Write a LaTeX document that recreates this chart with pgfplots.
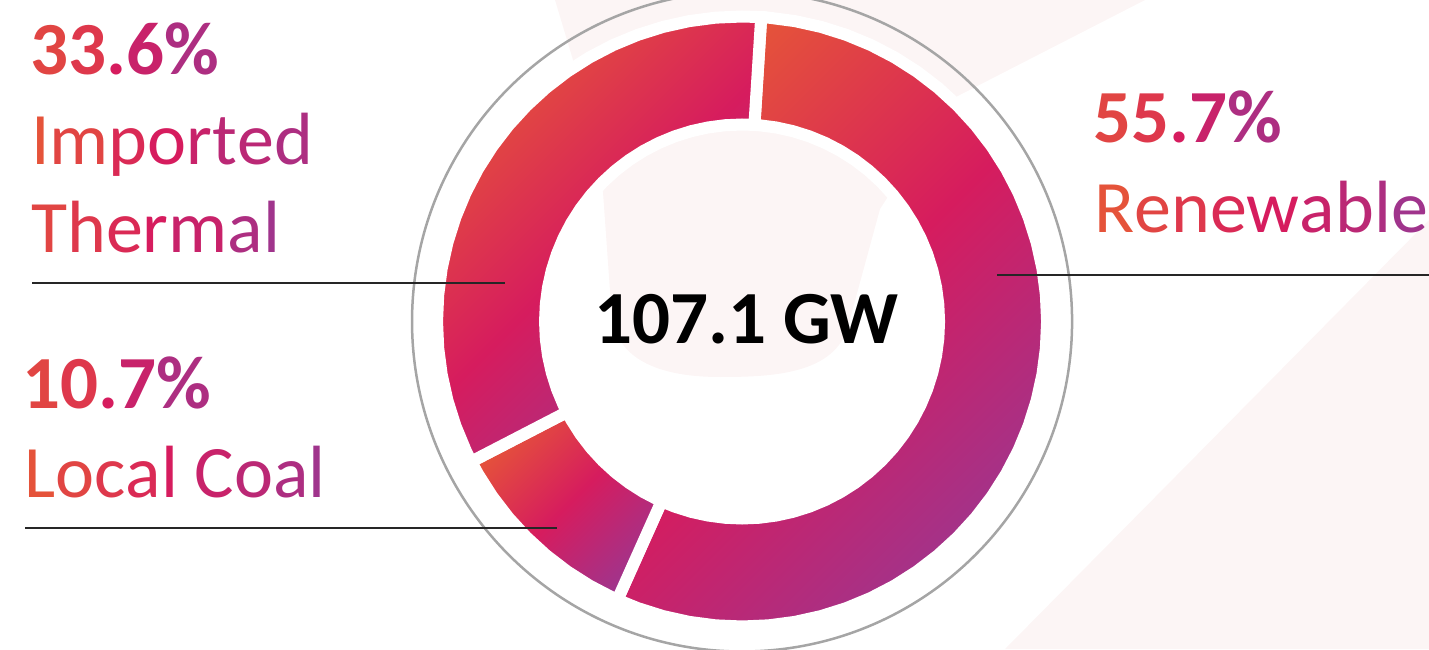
\documentclass[border=0pt]{standalone}
\usepackage{pgfplots}
\pgfplotsset{compat=1.18}
\usepackage{fontspec}
\setmainfont{Carlito}
\definecolor{gOr}{RGB}{229,83,58}
\definecolor{gMag}{RGB}{214,28,94}
\definecolor{gPur}{RGB}{160,52,140}
\colorlet{s0}{gOr}
\colorlet{s1}{gMag!25!gOr}
\colorlet{s2}{gMag!50!gOr}
\colorlet{s3}{gMag!75!gOr}
\colorlet{s4}{gMag}
\colorlet{s5}{gPur!25!gMag}
\colorlet{s6}{gPur!50!gMag}
\colorlet{s7}{gPur!75!gMag}
\colorlet{s8}{gPur}
\definecolor{bgPink}{RGB}{252,245,245}
\definecolor{ringGray}{RGB}{165,165,165}
\newcommand{\cc}[2]{\textcolor{s#1}{#2}}
\newcommand{\bigfont}{\fontsize{74pt}{80pt}\selectfont}
\newcommand{\pctfont}{\fontsize{75pt}{80pt}\selectfont\bfseries}
\begin{document}
\begin{tikzpicture}
\useasboundingbox (0pt,0pt) rectangle (1429pt,649pt);
\clip (0pt,0pt) rectangle (1429pt,649pt);
% faint background watermark
\fill[bgPink] (1005pt,0pt) -- (1429pt,0pt) -- (1429pt,429pt) -- cycle;
\fill[bgPink] (555pt,649pt) -- (1145pt,649pt) -- (950pt,549pt) -- (880pt,440pt) -- (850pt,330pt)
  to[out=-100,in=0] (720pt,272pt) to[out=180,in=-80] (612pt,330pt) -- (600pt,499pt) -- cycle;
% Shares (%): Renewable 55.7, Local Coal 10.7, Imported Thermal 33.6
% -> sweep angles 200.52, 38.52, 120.96 degrees, clockwise from 86.4 deg
\begin{axis}[at={(0pt,0pt)}, anchor=south west, width=1429pt, height=649pt,
  scale only axis, hide axis, clip=false,
  xmin=-742, xmax=687, ymin=-327.5, ymax=321.5]
\draw[ringGray, line width=2.5pt] (axis cs:0,0) circle[radius=330];
% Renewable 55.7%
\addplot[data cs=polar, mark=none, draw=white, line width=12pt,
  top color=gOr, bottom color=gPur, middle color=gMag, shading angle=45]
 coordinates {(86.4,305) (85,305) (80,305) (75,305) (70,305) (65,305) (60,305) (55,305) (50,305) (45,305) (40,305) (35,305) (30,305) (25,305) (20,305) (15,305) (10,305) (5,305) (0,305) (-5,305) (-10,305) (-15,305) (-20,305) (-25,305) (-30,305) (-35,305) (-40,305) (-45,305) (-50,305) (-55,305) (-60,305) (-65,305) (-70,305) (-75,305) (-80,305) (-85,305) (-90,305) (-95,305) (-100,305) (-105,305) (-110,305) (-114.12,305)
 (-114.12,197) (-110,197) (-105,197) (-100,197) (-95,197) (-90,197) (-85,197) (-80,197) (-75,197) (-70,197) (-65,197) (-60,197) (-55,197) (-50,197) (-45,197) (-40,197) (-35,197) (-30,197) (-25,197) (-20,197) (-15,197) (-10,197) (-5,197) (0,197) (5,197) (10,197) (15,197) (20,197) (25,197) (30,197) (35,197) (40,197) (45,197) (50,197) (55,197) (60,197) (65,197) (70,197) (75,197) (80,197) (85,197) (86.4,197) (86.4,305)};
% Local Coal 10.7%
\addplot[data cs=polar, mark=none, draw=white, line width=12pt,
  top color=gOr, bottom color=gPur, middle color=gMag, shading angle=45]
 coordinates {(-114.12,305) (-115,305) (-120,305) (-125,305) (-130,305) (-135,305) (-140,305) (-145,305) (-150,305) (-152.64,305)
 (-152.64,197) (-150,197) (-145,197) (-140,197) (-135,197) (-130,197) (-125,197) (-120,197) (-115,197) (-114.12,197) (-114.12,305)};
% Imported Thermal 33.6%
\addplot[data cs=polar, mark=none, draw=white, line width=12pt,
  top color=gOr, bottom color=gPur, middle color=gMag, shading angle=45]
 coordinates {(-152.64,305) (-155,305) (-160,305) (-165,305) (-170,305) (-175,305) (-180,305) (-185,305) (-190,305) (-195,305) (-200,305) (-205,305) (-210,305) (-215,305) (-220,305) (-225,305) (-230,305) (-235,305) (-240,305) (-245,305) (-250,305) (-255,305) (-260,305) (-265,305) (-270,305) (-273.6,305)
 (-273.6,197) (-270,197) (-265,197) (-260,197) (-255,197) (-250,197) (-245,197) (-240,197) (-235,197) (-230,197) (-225,197) (-220,197) (-215,197) (-210,197) (-205,197) (-200,197) (-195,197) (-190,197) (-185,197) (-180,197) (-175,197) (-170,197) (-165,197) (-160,197) (-155,197) (-152.64,197) (-152.64,305)};
\end{axis}
% leader lines
\draw[black!85, line width=1.3pt] (32pt,366pt) -- (505pt,366pt);
\draw[black!85, line width=1.3pt] (997pt,374pt) -- (1429pt,374pt);
\draw[black!85, line width=1.3pt] (25pt,121pt) -- (557pt,121pt);
% labels
\node[anchor=base west, inner sep=0pt, font=\pctfont] at (30pt,574pt)
  {\cc1{3}\cc2{3}\cc4{.}\cc5{6}\cc7{\%}};
\node[anchor=base west, inner sep=0pt, font=\bigfont] at (31pt,484pt)
  {\cc0{I}\cc1{m}\cc3{p}\cc4{o}\cc5{r}\cc6{t}\cc6{e}\cc7{d}};
\node[anchor=base west, inner sep=0pt, font=\bigfont] at (31pt,396pt)
  {\cc1{T}\cc2{h}\cc3{e}\cc4{r}\cc5{m}\cc7{a}\cc8{l}};
\node[anchor=base west, inner sep=0pt, font=\pctfont] at (22pt,241pt)
  {\cc1{1}\cc2{0}\cc4{.}\cc5{7}\cc7{\%}};
\node[anchor=base west, inner sep=0pt, font=\bigfont] at (24pt,152pt)
  {\cc0{L}\cc1{o}\cc2{c}\cc3{a}\cc4{l} \cc5{C}\cc6{o}\cc7{a}\cc8{l}};
\node[anchor=base west, inner sep=0pt, font=\pctfont] at (1093pt,506pt)
  {\cc1{5}\cc2{5}\cc4{.}\cc5{7}\cc7{\%}};
\node[anchor=base west, inner sep=0pt, font=\bigfont] at (1094pt,416pt)
  {\cc0{R}\cc1{e}\cc2{n}\cc3{e}\cc4{w}\cc5{a}\cc6{b}\cc7{l}\cc8{e}};
\node[anchor=base, inner sep=0pt, font=\fontsize{75pt}{80pt}\selectfont\bfseries] at (746.5pt,306pt)
  {107.1 GW};
\end{tikzpicture}
\end{document}
